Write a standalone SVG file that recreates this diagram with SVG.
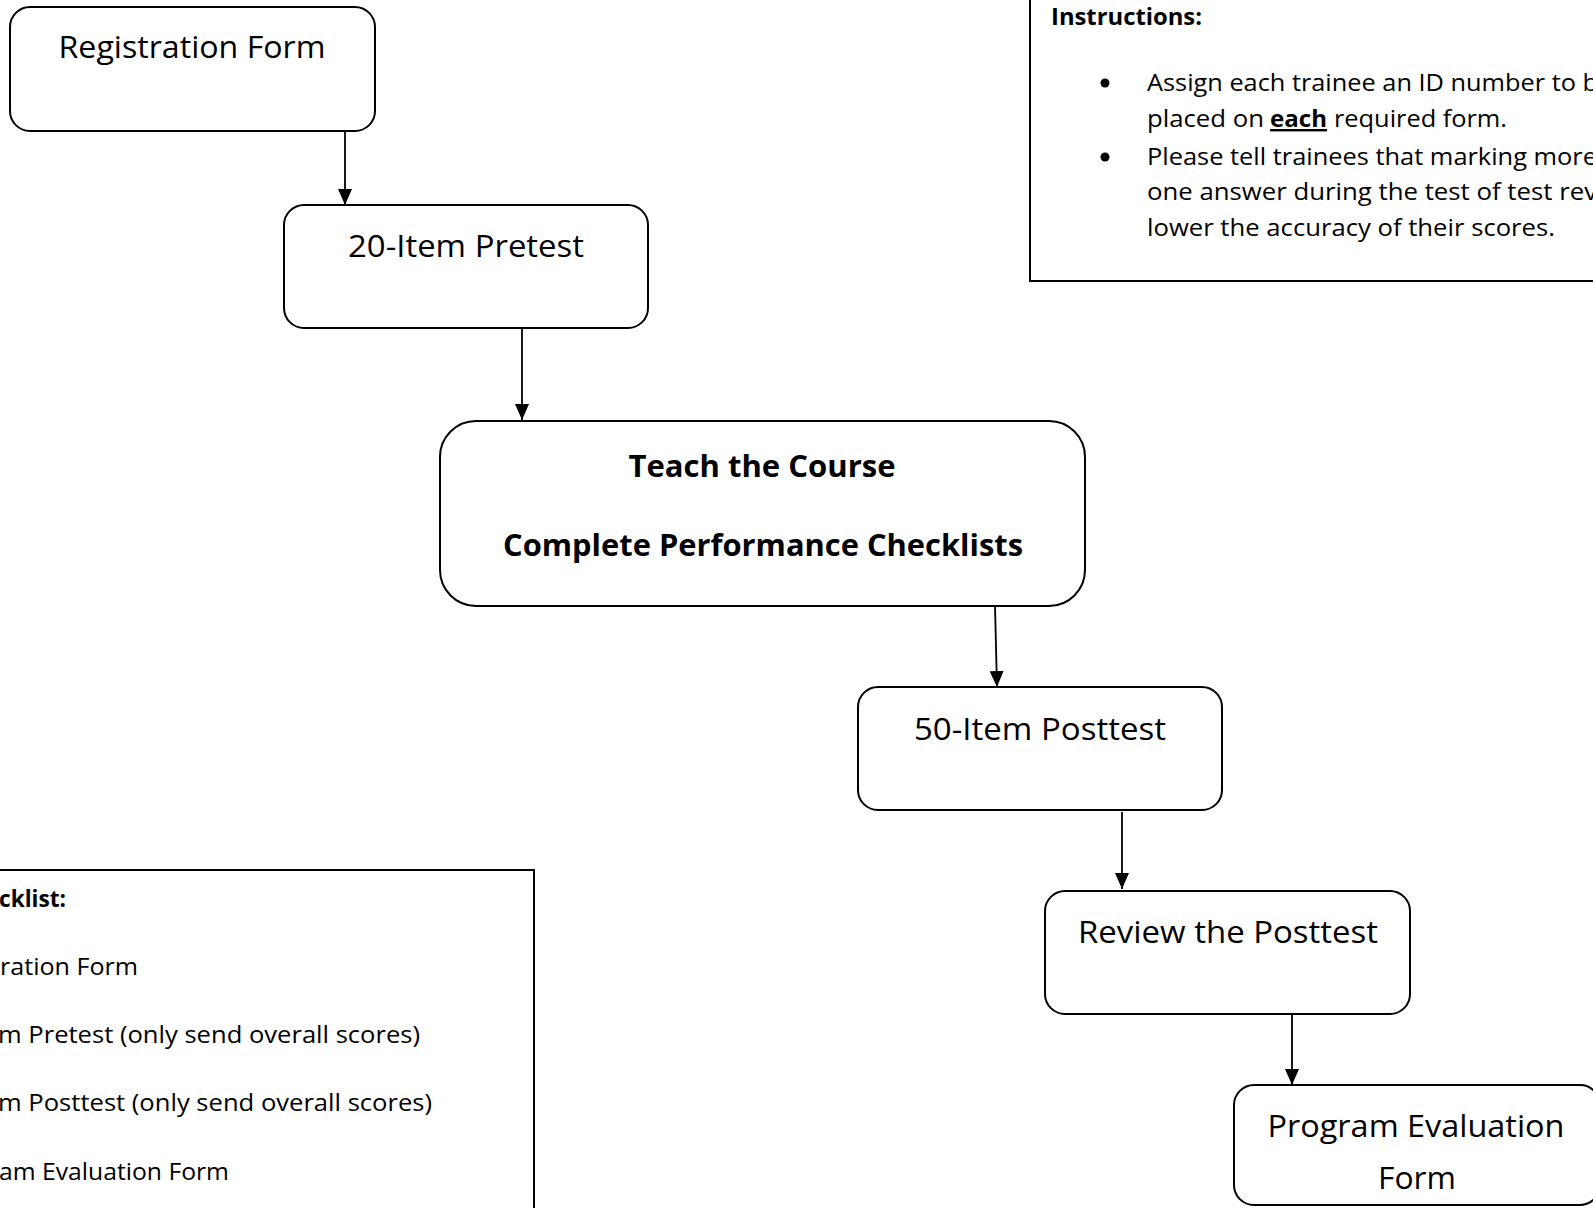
<svg xmlns="http://www.w3.org/2000/svg" width="1593" height="1208" viewBox="0 0 1593 1208">
<defs>
<marker id="ah" markerUnits="userSpaceOnUse" markerWidth="16" markerHeight="14" refX="16" refY="7" orient="auto" viewBox="0 0 16 14">
<path d="M0,0 L16,7 L0,14 z" fill="#000"/>
</marker>
<style>
.box{fill:#fff;stroke:#000;stroke-width:2}
.lbl{font-family:"Open Sans","Liberation Sans",sans-serif;font-size:31px;fill:#000}
.bold{font-weight:bold}
.sm{font-family:"Open Sans","Liberation Sans",sans-serif;font-size:24px;fill:#000}
.conn{stroke:#000;stroke-width:1.8;fill:none;marker-end:url(#ah)}
</style>
</defs>
<rect width="1593" height="1208" fill="#fff"/>

<g id="instructions">
<rect x="1030" y="-20" width="600" height="301" fill="#fff" stroke="#000" stroke-width="2"/>
<text class="sm bold" x="1051" y="25" font-size="23" textLength="151" lengthAdjust="spacingAndGlyphs">Instructions:</text>
<circle cx="1105" cy="83" r="4.5" fill="#000"/>
<circle cx="1105" cy="157" r="4.5" fill="#000"/>
<text class="sm" x="1147" y="91" textLength="451" lengthAdjust="spacingAndGlyphs">Assign each trainee an ID number to b</text>
<text class="sm" x="1147" y="127" textLength="117" lengthAdjust="spacingAndGlyphs">placed on</text>
<text class="sm bold" x="1270" y="127" textLength="57" lengthAdjust="spacingAndGlyphs" text-decoration="underline">each</text>
<text class="sm" x="1334" y="127" textLength="173" lengthAdjust="spacingAndGlyphs">required form.</text>
<text class="sm" x="1147" y="165" textLength="450" lengthAdjust="spacingAndGlyphs">Please tell trainees that marking more</text>
<text class="sm" x="1147" y="200" textLength="450" lengthAdjust="spacingAndGlyphs">one answer during the test of test rev</text>
<text class="sm" x="1147" y="236" textLength="408" lengthAdjust="spacingAndGlyphs">lower the accuracy of their scores.</text>
</g>

<g id="checklist">
<rect x="-20" y="870" width="554" height="360" fill="#fff" stroke="#000" stroke-width="2"/>
<text class="sm bold" x="-1" y="907" textLength="67" lengthAdjust="spacingAndGlyphs">cklist:</text>
<text class="sm" x="0" y="975" textLength="138" lengthAdjust="spacingAndGlyphs">ration Form</text>
<text class="sm" x="-2" y="1043" textLength="422" lengthAdjust="spacingAndGlyphs">m Pretest (only send overall scores)</text>
<text class="sm" x="-2" y="1111" textLength="434" lengthAdjust="spacingAndGlyphs">m Posttest (only send overall scores)</text>
<text class="sm" x="-1" y="1180" textLength="230" lengthAdjust="spacingAndGlyphs">am Evaluation Form</text>
</g>

<g id="connectors">
<line class="conn" x1="345" y1="131" x2="345" y2="205"/>
<line class="conn" x1="522" y1="328" x2="522" y2="420"/>
<line class="conn" x1="995" y1="606" x2="997" y2="687"/>
<line class="conn" x1="1122" y1="812" x2="1122" y2="889"/>
<line class="conn" x1="1292" y1="1014" x2="1292" y2="1085"/>
</g>

<g id="registration">
<rect class="box" x="10" y="7" width="365" height="124" rx="20"/>
<text class="lbl" x="192" y="58" text-anchor="middle" textLength="267" lengthAdjust="spacingAndGlyphs">Registration Form</text>
</g>

<g id="pretest">
<rect class="box" x="284" y="205" width="364" height="123" rx="20"/>
<text class="lbl" x="466" y="257" text-anchor="middle" textLength="236" lengthAdjust="spacingAndGlyphs">20-Item Pretest</text>
</g>

<g id="teach">
<rect class="box" x="440" y="421" width="645" height="185" rx="36"/>
<text class="lbl bold" x="762" y="477" text-anchor="middle" textLength="267" lengthAdjust="spacingAndGlyphs">Teach the Course</text>
<text class="lbl bold" x="763" y="556" text-anchor="middle" textLength="520" lengthAdjust="spacingAndGlyphs">Complete Performance Checklists</text>
</g>

<g id="posttest">
<rect class="box" x="858" y="687" width="364" height="123" rx="20"/>
<text class="lbl" x="1040" y="740" text-anchor="middle" textLength="252" lengthAdjust="spacingAndGlyphs">50-Item Posttest</text>
</g>

<g id="review">
<rect class="box" x="1045" y="891" width="365" height="123" rx="20"/>
<text class="lbl" x="1228" y="943" text-anchor="middle" textLength="300" lengthAdjust="spacingAndGlyphs">Review the Posttest</text>
</g>

<g id="evaluation">
<rect class="box" x="1234" y="1085" width="366" height="120" rx="20"/>
<text class="lbl" x="1416" y="1137" text-anchor="middle" textLength="297" lengthAdjust="spacingAndGlyphs">Program Evaluation</text>
<text class="lbl" x="1417" y="1189" text-anchor="middle" textLength="78" lengthAdjust="spacingAndGlyphs">Form</text>
</g>
</svg>
